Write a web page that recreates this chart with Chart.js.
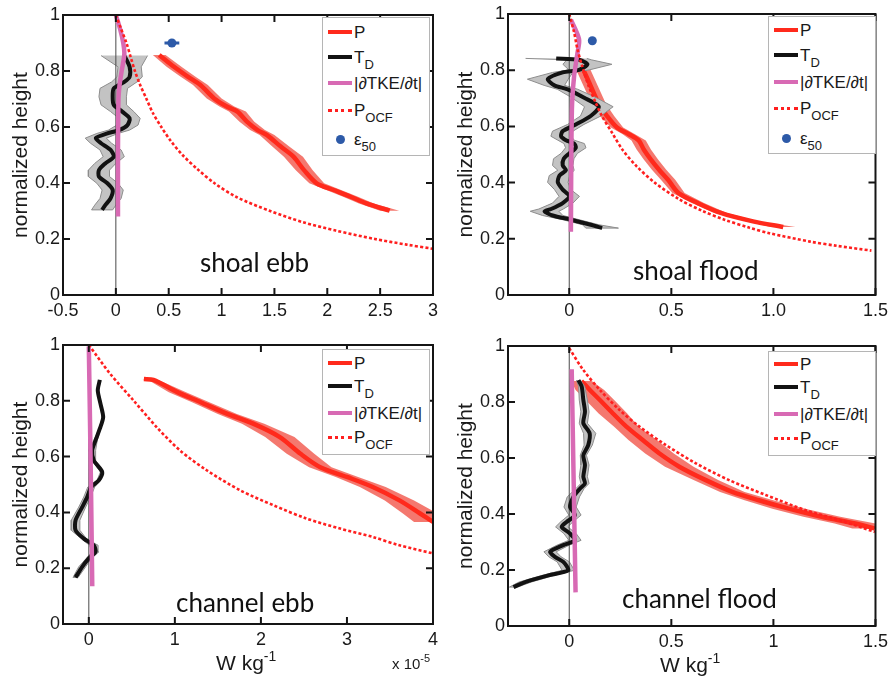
<!DOCTYPE html>
<html>
<head>
<meta charset="utf-8">
<script src="https://cdn.jsdelivr.net/npm/chart.js@4.4.0/dist/chart.umd.min.js"></script>
<style>
body{margin:0;background:#fff;}
#fig{position:relative;width:893px;height:677px;overflow:hidden;font-family:"Liberation Sans",Arial,sans-serif;color:#1a1a1a;}
canvas{position:absolute;}
.leg{position:absolute;background:#fff;border:1px solid #b5b5b5;box-sizing:border-box;z-index:2;}
.row{position:absolute;left:0;width:100%;height:0;}
.sw{position:absolute;left:5px;width:24px;}
.lt{position:absolute;left:31px;top:-8px;font-size:17px;line-height:17px;white-space:nowrap;}
.lt sub{font-size:13px;vertical-align:-6px;line-height:0;}
.lab{position:absolute;font-family:Lato,"Open Sans",sans-serif;font-size:26px;line-height:26px;white-space:nowrap;color:#111;z-index:2;}
.xt{position:absolute;font-size:21px;line-height:21px;white-space:nowrap;z-index:2;}
.xt sup{font-size:14px;vertical-align:9px;line-height:0;}
.sc{position:absolute;font-size:15px;line-height:15px;white-space:nowrap;z-index:2;}
.sc sup{font-size:11px;vertical-align:7px;line-height:0;}
</style>
</head>
<body>
<div id="fig">
  <canvas id="c1" width="445" height="325" style="left:0;top:0"></canvas>
  <canvas id="c2" width="448" height="325" style="left:445px;top:0"></canvas>
  <canvas id="c3" width="445" height="352" style="left:0;top:325px"></canvas>
  <canvas id="c4" width="448" height="352" style="left:445px;top:325px"></canvas>

  <div class="lab" style="left:200px;top:249px">shoal ebb</div>
  <div class="lab" style="left:633px;top:257px">shoal flood</div>
  <div class="lab" style="left:176px;top:589px">channel ebb</div>
  <div class="lab" style="left:622px;top:585px">channel flood</div>

  <div class="xt" style="left:216px;top:652px">W kg<sup>-1</sup></div>
  <div class="xt" style="left:660px;top:654px">W kg<sup>-1</sup></div>
  <div class="sc" style="left:392px;top:656px">x 10<sup>-5</sup></div>
</div>
<script>
// shared y axis
const yTicks = [0, 0.2, 0.4, 0.6, 0.8, 1];
const yTickLabels = ['0', '0.2', '0.4', '0.6', '0.8', '1'];
const zeroX = [0, 0];
const zeroY = [0, 1];

// ---- shoal ebb ----
const seXTicks = [-0.5, 0, 0.5, 1, 1.5, 2, 2.5, 3];
const seXLabels = ['-0.5', '0', '0.5', '1', '1.5', '2', '2.5', '3'];
const sePH = [0.857, 0.815, 0.78, 0.75, 0.702, 0.673, 0.655, 0.619, 0.589, 0.571, 0.53, 0.494, 0.446, 0.399, 0.375, 0.351, 0.327, 0.301];
const sePV = [0.41, 0.55, 0.68, 0.80, 0.93, 1.05, 1.15, 1.24, 1.34, 1.43, 1.56, 1.68, 1.78, 1.90, 2.06, 2.22, 2.37, 2.59];
const sePE = [0.06, 0.07, 0.07, 0.07, 0.07, 0.07, 0.08, 0.07, 0.07, 0.07, 0.08, 0.09, 0.08, 0.07, 0.07, 0.07, 0.07, 0.09];
const seTdH = [0.855, 0.815, 0.779, 0.761, 0.738, 0.708, 0.679, 0.655, 0.631, 0.607, 0.589, 0.577, 0.56, 0.542, 0.518, 0.494, 0.47, 0.446, 0.423, 0.399, 0.375, 0.345, 0.321, 0.304];
const seTdV = [0.08, 0.13, 0.13, 0.08, -0.02, -0.03, -0.02, 0.06, 0.13, 0.11, 0.03, -0.08, -0.19, -0.14, -0.05, -0.02, -0.10, -0.16, -0.16, -0.08, -0.03, -0.05, -0.10, -0.13];
const seTdE = [0.22, 0.11, 0.12, 0.12, 0.13, 0.13, 0.12, 0.11, 0.1, 0.1, 0.1, 0.1, 0.1, 0.1, 0.1, 0.1, 0.1, 0.1, 0.1, 0.1, 0.1, 0.1, 0.1, 0.1];
const seTkeH = [1.0, 0.95, 0.9, 0.86, 0.8, 0.75, 0.7, 0.5, 0.28];
const seTkeV = [0.0, 0.04, 0.07, 0.08, 0.055, 0.035, 0.025, 0.02, 0.02];
const seOcfH = [1.0, 0.95, 0.9, 0.85, 0.8, 0.75, 0.7, 0.65, 0.6, 0.55, 0.5, 0.45, 0.4, 0.35, 0.3, 0.26, 0.23, 0.2, 0.18, 0.165];
const seOcfV = [0.0, 0.05, 0.1, 0.14, 0.18, 0.23, 0.29, 0.35, 0.43, 0.52, 0.63, 0.77, 0.93, 1.14, 1.46, 1.77, 2.08, 2.45, 2.75, 3.0];
const seEps = [0.53], seEpsH = [0.9], seEpsE = [0.07];

// ---- shoal flood ----
const sfXTicks = [0, 0.5, 1, 1.5];
const sfXLabels = ['0', '0.5', '1.0', '1.5'];
const sfPH = [0.842, 0.80, 0.744, 0.68, 0.637, 0.596, 0.573, 0.55, 0.518, 0.482, 0.446, 0.41, 0.363, 0.327, 0.292, 0.262, 0.242];
const sfPV = [0.04, 0.07, 0.105, 0.145, 0.185, 0.234, 0.29, 0.34, 0.365, 0.40, 0.44, 0.484, 0.535, 0.63, 0.742, 0.90, 1.048];
const sfPE = [0.03, 0.035, 0.035, 0.035, 0.035, 0.03, 0.03, 0.035, 0.035, 0.035, 0.035, 0.035, 0.03, 0.03, 0.03, 0.03, 0.06];
const sfTdH = [0.842, 0.837, 0.821, 0.801, 0.792, 0.768, 0.746, 0.732, 0.702, 0.67, 0.637, 0.607, 0.583, 0.565, 0.551, 0.539, 0.524, 0.504, 0.485, 0.461, 0.444, 0.425, 0.401, 0.375, 0.351, 0.327, 0.306, 0.298, 0.283, 0.268, 0.25, 0.238];
const sfTdV = [-0.064, 0.048, 0.089, 0.048, -0.032, -0.105, -0.073, -0.008, 0.073, 0.145, 0.105, 0.032, -0.032, -0.04, -0.016, 0.024, 0.032, 0, -0.027, -0.032, -0.016, -0.048, -0.056, -0.032, 0, -0.032, -0.089, -0.121, -0.081, 0.008, 0.105, 0.161];
const sfTdE = [0.15, 0.06, 0.12, 0.05, 0.05, 0.1, 0.05, 0.05, 0.06, 0.07, 0.05, 0.04, 0.05, 0.05, 0.04, 0.05, 0.05, 0.04, 0.05, 0.05, 0.04, 0.05, 0.05, 0.04, 0.05, 0.05, 0.06, 0.07, 0.05, 0.04, 0.04, 0.08];
const sfTkeH = [0.98, 0.91, 0.86, 0.78, 0.66, 0.225];
const sfTkeV = [0.008, 0.048, 0.04, 0.024, 0.013, 0.008];
const sfOcfH = [1.0, 0.934, 0.875, 0.815, 0.744, 0.685, 0.637, 0.577, 0.518, 0.458, 0.399, 0.34, 0.30, 0.268, 0.24, 0.22, 0.19, 0.175, 0.158];
const sfOcfV = [0, 0.024, 0.04, 0.063, 0.095, 0.129, 0.16, 0.21, 0.26, 0.33, 0.42, 0.54, 0.65, 0.76, 0.88, 0.98, 1.18, 1.31, 1.48];
const sfEps = [0.113], sfEpsH = [0.905], sfEpsE = [0.015];

// ---- channel ebb (x 10^-5) ----
const ceXTicks = [0, 1, 2, 3, 4];
const ceXLabels = ['0', '1', '2', '3', '4'];
const cePH = [0.878, 0.875, 0.831, 0.795, 0.753, 0.718, 0.67, 0.61, 0.562, 0.527, 0.491, 0.443, 0.396, 0.366];
const cePV = [0.64, 0.75, 1.03, 1.30, 1.61, 1.91, 2.22, 2.46, 2.69, 3.00, 3.30, 3.61, 3.85, 4.0];
const cePE = [0.02, 0.06, 0.1, 0.1, 0.11, 0.13, 0.17, 0.16, 0.13, 0.13, 0.15, 0.17, 0.2, 0.22];
const ceTdH = [0.875, 0.837, 0.789, 0.741, 0.70, 0.658, 0.622, 0.586, 0.545, 0.515, 0.491, 0.455, 0.419, 0.372, 0.336, 0.306, 0.282, 0.259, 0.235, 0.205, 0.167];
const ceTdV = [0.128, 0.104, 0.136, 0.167, 0.128, 0.078, 0.039, 0.058, 0.155, 0.116, 0.028, -0.019, -0.077, -0.154, -0.154, -0.058, 0.058, 0.078, 0, -0.077, -0.154];
const ceTdE = [0.01, 0.01, 0.01, 0.01, 0.01, 0.02, 0.04, 0.02, 0.02, 0.02, 0.04, 0.04, 0.04, 0.05, 0.05, 0.03, 0.05, 0.04, 0.03, 0.04, 0.03];
const ceTkeH = [0.995, 0.5, 0.135];
const ceTkeV = [0.0, 0.025, 0.04];
const ceOcfH = [1.0, 0.896, 0.801, 0.705, 0.622, 0.551, 0.479, 0.425, 0.378, 0.342, 0.312, 0.282, 0.253];
const ceOcfV = [0, 0.25, 0.52, 0.79, 1.06, 1.37, 1.76, 2.15, 2.53, 2.92, 3.30, 3.61, 4.0];

// ---- channel flood ----
const cfXTicks = [0, 0.5, 1, 1.5];
const cfXLabels = ['0', '0.5', '1', '1.5'];
const cfPH = [0.875, 0.843, 0.807, 0.759, 0.712, 0.664, 0.616, 0.569, 0.521, 0.479, 0.449, 0.419, 0.39, 0.366, 0.348];
const cfPV = [0.06, 0.101, 0.15, 0.214, 0.28, 0.36, 0.442, 0.539, 0.669, 0.799, 0.929, 1.075, 1.237, 1.40, 1.497];
const cfPE = [0.05, 0.07, 0.07, 0.07, 0.06, 0.07, 0.07, 0.07, 0.06, 0.06, 0.07, 0.08, 0.09, 0.1, 0.11];
const cfTdH = [0.878, 0.855, 0.807, 0.765, 0.724, 0.688, 0.646, 0.61, 0.575, 0.533, 0.509, 0.491, 0.461, 0.425, 0.396, 0.372, 0.354, 0.33, 0.306, 0.289, 0.265, 0.247, 0.229, 0.199, 0.181, 0.157, 0.139];
const cfTdV = [0.045, 0.061, 0.069, 0.077, 0.069, 0.1, 0.093, 0.069, 0.077, 0.069, 0.077, 0.053, 0.02, 0.004, 0.028, -0.012, -0.037, 0.004, 0.028, -0.029, -0.094, -0.07, -0.029, -0.005, -0.102, -0.216, -0.273];
const cfTdE = [0.01, 0.015, 0.02, 0.02, 0.02, 0.03, 0.02, 0.015, 0.02, 0.02, 0.02, 0.02, 0.03, 0.03, 0.03, 0.03, 0.03, 0.03, 0.03, 0.03, 0.03, 0.03, 0.03, 0.03, 0.03, 0.03, 0.02];
const cfTkeH = [0.917, 0.5, 0.12];
const cfTkeV = [0.012, 0.022, 0.031];
const cfOcfH = [0.992, 0.915, 0.843, 0.771, 0.712, 0.646, 0.581, 0.521, 0.468, 0.414, 0.379, 0.336];
const cfOcfV = [0.0, 0.068, 0.15, 0.247, 0.344, 0.474, 0.62, 0.783, 0.962, 1.156, 1.319, 1.497];

const legendNames = ['P', 'T<sub>D</sub>', '|&part;TKE/&part;t|', 'P<sub>OCF</sub>', '&epsilon;<sub>50</sub>'];

const RED = '#ff2a1c', BAND = 'rgba(243,105,95,0.9)', PINK = '#d86ab4', BLUE = '#2d5aa8';
const tickFont = {family: '"Liberation Sans", Arial, sans-serif', size: 18};

function pts(h, v) { return v.map((x, i) => ({x: x, y: h[i]})); }
function band(h, v, e) {
  const lo = h.map((y, i) => ({x: v[i] - e[i], y: y}));
  const hi = h.map((y, i) => ({x: v[i] + e[i], y: y})).reverse();
  return lo.concat(hi);
}

// box with inward tick marks on all four sides
const framePlugin = {
  id: 'frame',
  afterDraw(chart) {
    const {ctx, chartArea: a, scales} = chart;
    ctx.save();
    ctx.strokeStyle = '#151515';
    ctx.lineWidth = 2;
    ctx.beginPath();
    scales.x.ticks.forEach(t => {
      const px = scales.x.getPixelForValue(t.value);
      ctx.moveTo(px, a.bottom); ctx.lineTo(px, a.bottom - 7);
      ctx.moveTo(px, a.top); ctx.lineTo(px, a.top + 7);
    });
    scales.y.ticks.forEach(t => {
      const py = scales.y.getPixelForValue(t.value);
      ctx.moveTo(a.left, py); ctx.lineTo(a.left + 7, py);
      ctx.moveTo(a.right, py); ctx.lineTo(a.right - 7, py);
    });
    ctx.stroke();
    ctx.strokeRect(a.left, a.top, a.right - a.left, a.bottom - a.top);
    ctx.restore();
  }
};

function makePanel(id, p) {
  const ds = [
    {data: band(p.ph, p.pv, p.pe), fill: 'shape', backgroundColor: BAND, borderColor: 'transparent', borderWidth: 0, order: 9},
    {data: pts(p.ph, p.pv), borderColor: RED, borderWidth: 4.5, tension: 0.3, order: 8},
    {data: band(p.th, p.tv, p.te), fill: 'shape', backgroundColor: '#c3c3c3', borderColor: '#8d8d8d', borderWidth: 1, order: 7},
    {data: pts(zeroY, zeroX), borderColor: '#4a4a4a', borderWidth: 1, order: 6},
    {data: pts(p.th, p.tv), borderColor: '#121212', borderWidth: 4, tension: 0.25, order: 5},
    {data: pts(p.kh, p.kv), borderColor: PINK, borderWidth: 4.5, tension: 0.3, order: 4},
    {data: pts(p.oh, p.ov), borderColor: '#ff1f1f', borderWidth: 2.6, borderDash: [3, 2.2], tension: 0.3, order: 3}
  ];
  if (p.ex) {
    ds.push({data: [{x: p.ex[0] - p.ee[0], y: p.eh[0]}, {x: p.ex[0] + p.ee[0], y: p.eh[0]}], borderColor: BLUE, borderWidth: 3, order: 2});
    ds.push({data: pts(p.eh, p.ex), showLine: false, pointRadius: 4.5, pointBackgroundColor: BLUE, pointBorderWidth: 0, order: 1});
  }
  ds.forEach(d => {
    if (d.tension === undefined) d.tension = 0;
    d.clip = 0;
    d.borderJoinStyle = 'round';
    if (d.pointRadius === undefined) d.pointRadius = 0;
    if (d.fill === undefined) d.fill = false;
  });

  return new Chart(document.getElementById(id), {
    type: 'line',
    data: {datasets: ds},
    plugins: [framePlugin],
    options: {
      responsive: false,
      animation: false,
      events: [],
      layout: {padding: {top: p.top, right: p.right, left: 0, bottom: 0}},
      plugins: {legend: {display: false}, tooltip: {enabled: false}},
      scales: {
        x: {
          type: 'linear', min: p.xMin, max: p.xMax,
          afterBuildTicks: s => { s.ticks = p.xTicks.map(v => ({value: v})); },
          ticks: {autoSkip: false, maxRotation: 0, padding: 5, color: '#1a1a1a', font: tickFont,
                  callback: v => p.xLabels[p.xTicks.indexOf(v)]},
          grid: {display: false, drawTicks: false},
          border: {display: false},
          afterFit: s => { s.height = p.xh; }
        },
        y: {
          type: 'linear', min: 0, max: 1,
          afterBuildTicks: s => { s.ticks = yTicks.map(v => ({value: v})); },
          ticks: {autoSkip: false, padding: 3, color: '#1a1a1a', font: tickFont,
                  callback: v => yTickLabels[yTicks.indexOf(v)]},
          grid: {display: false, drawTicks: false},
          border: {display: false},
          title: {display: true, text: 'normalized height', color: '#1a1a1a',
                  font: {family: '"Liberation Sans", Arial, sans-serif', size: 21}, padding: {top: 9, bottom: 0}},
          afterFit: s => { s.width = 63; }
        }
      }
    }
  });
}

function makeLegend(left, top, width, height, rows, n) {
  const box = document.createElement('div');
  box.className = 'leg';
  Object.assign(box.style, {left: left + 'px', top: top + 'px', width: width + 'px', height: height + 'px'});
  const swatches = [
    'top:-2px;height:4px;background:' + RED,
    'top:-2px;height:4px;background:#121212',
    'top:-2px;height:4px;background:' + PINK,
    'top:-1.5px;height:0;border-top:3px dotted #ff1f1f',
    'top:-4.5px;left:13px;width:9px;height:9px;border-radius:50%;background:' + BLUE
  ];
  for (let i = 0; i < n; i++) {
    const r = document.createElement('div');
    r.className = 'row';
    r.style.top = rows[i] + 'px';
    r.innerHTML = '<div class="sw" style="' + swatches[i] + '"></div><div class="lt">' + legendNames[i] + '</div>';
    box.appendChild(r);
  }
  document.getElementById('fig').appendChild(box);
}

makePanel('c1', {xMin: -0.5, xMax: 3, xTicks: seXTicks, xLabels: seXLabels, top: 15, right: 12, xh: 30,
  ph: sePH, pv: sePV, pe: sePE, th: seTdH, tv: seTdV, te: seTdE, kh: seTkeH, kv: seTkeV,
  oh: seOcfH, ov: seOcfV, ex: seEps, eh: seEpsH, ee: seEpsE});
makePanel('c2', {xMin: -0.3, xMax: 1.5, xTicks: sfXTicks, xLabels: sfXLabels, top: 14, right: 13, xh: 30,
  ph: sfPH, pv: sfPV, pe: sfPE, th: sfTdH, tv: sfTdV, te: sfTdE, kh: sfTkeH, kv: sfTkeV,
  oh: sfOcfH, ov: sfOcfV, ex: sfEps, eh: sfEpsH, ee: sfEpsE});
makePanel('c3', {xMin: -0.3, xMax: 4, xTicks: ceXTicks, xLabels: ceXLabels, top: 20, right: 12, xh: 53,
  ph: cePH, pv: cePV, pe: cePE, th: ceTdH, tv: ceTdV, te: ceTdE, kh: ceTkeH, kv: ceTkeV,
  oh: ceOcfH, ov: ceOcfV});
makePanel('c4', {xMin: -0.3, xMax: 1.5, xTicks: cfXTicks, xLabels: cfXLabels, top: 21, right: 16, xh: 51,
  ph: cfPH, pv: cfPV, pe: cfPE, th: cfTdH, tv: cfTdV, te: cfTdE, kh: cfTkeH, kv: cfTkeV,
  oh: cfOcfH, ov: cfOcfV});

makeLegend(322, 17, 108, 139, [14, 39, 65, 92, 121], 5);
makeLegend(768, 16, 108, 138, [13, 38, 65, 91, 121], 5);
makeLegend(322, 349, 108, 106, [12.5, 36, 62.5, 87], 4);
makeLegend(768, 351, 108, 105, [12, 35, 62, 86], 4);
</script>
</body>
</html>
